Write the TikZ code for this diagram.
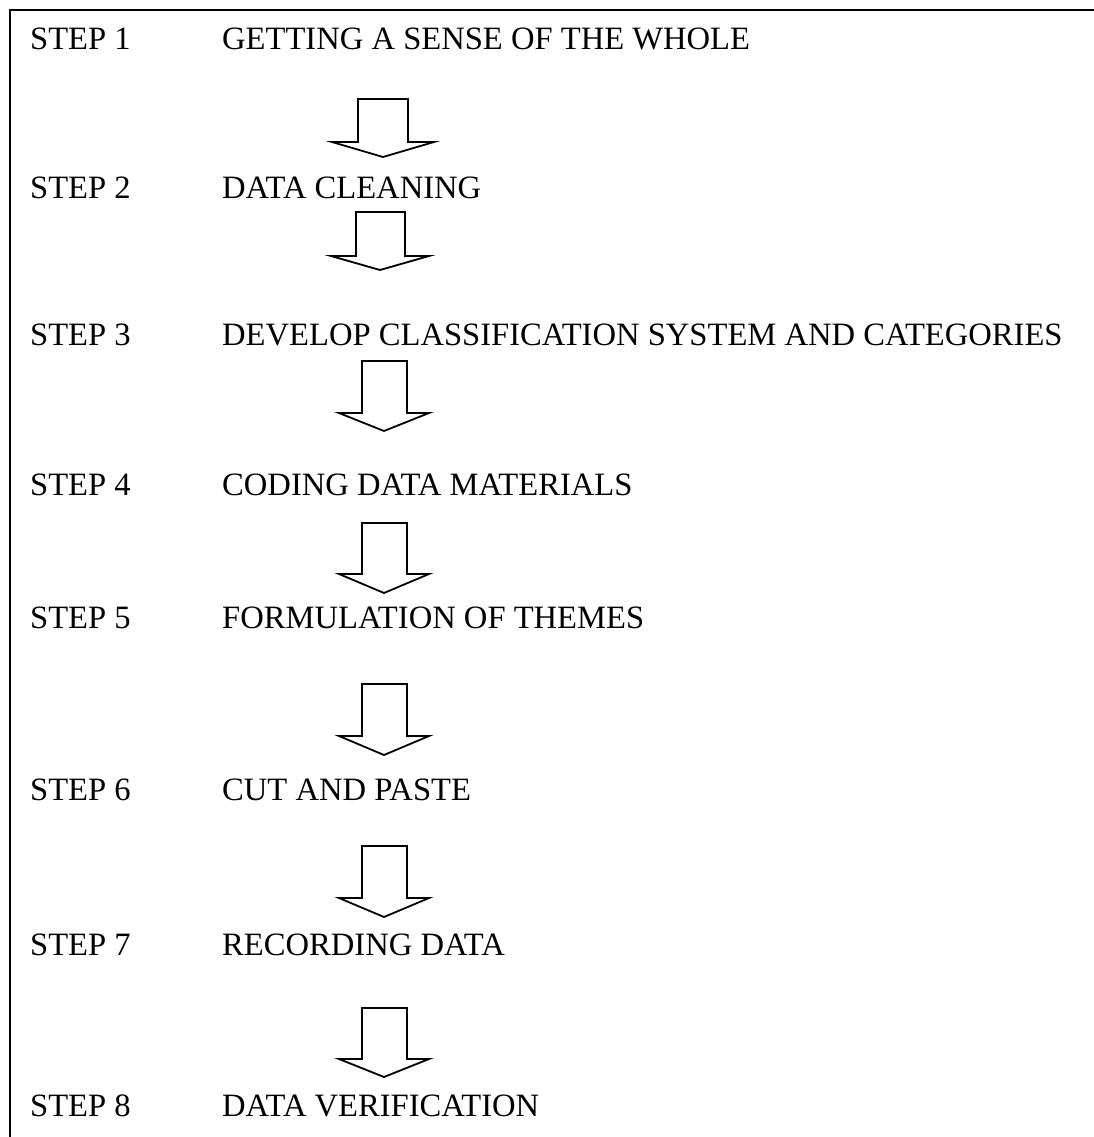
\documentclass[tikz,border=0pt]{standalone}
\usepackage{fontspec}
\setmainfont{Liberation Serif}
\begin{document}
\begin{tikzpicture}[x=1pt,y=-1pt,
  steplabel/.style={anchor=base west,inner sep=0pt,font=\fontsize{32.6}{38}\selectfont},
  frameline/.style={line width=2.8pt},
  blockarrow/.style={draw=black,fill=white,line width=1.8pt,line join=miter}]
\useasboundingbox (0,0) rectangle (1094,1137);
\draw[frameline] (10,1137) -- (10,10) -- (1094,10);
% step labels
\node[steplabel] (s1) at (30,50) {STEP 1};
\node[steplabel] (t1) at (222,50) {GETTING A SENSE OF THE WHOLE};
\node[steplabel] (s2) at (30,198) {STEP 2};
\node[steplabel] (t2) at (222,198) {DATA CLEANING};
\node[steplabel] (s3) at (30,345) {STEP 3};
\node[steplabel] (t3) at (222,345) {DEVELOP CLASSIFICATION SYSTEM AND CATEGORIES};
\node[steplabel] (s4) at (30,495) {STEP 4};
\node[steplabel] (t4) at (222,495) {CODING DATA MATERIALS};
\node[steplabel] (s5) at (30,628) {STEP 5};
\node[steplabel] (t5) at (222,628) {FORMULATION OF THEMES};
\node[steplabel] (s6) at (30,800) {STEP 6};
\node[steplabel] (t6) at (222,800) {CUT AND PASTE};
\node[steplabel] (s7) at (30,955) {STEP 7};
\node[steplabel] (t7) at (222,955) {RECORDING DATA};
\node[steplabel] (s8) at (30,1116) {STEP 8};
\node[steplabel] (t8) at (222,1116) {DATA VERIFICATION};
% block arrows: #1 shaft left, #2 shaft right, #3 head left, #4 head right, #5 tip x, #6 top, #7 shoulder, #8 tip y
\newcommand\blkarrow[8]{\draw[blockarrow] (#1,#6) -- (#2,#6) -- (#2,#7) -- (#4,#7) -- (#5,#8) -- (#3,#7) -- (#1,#7) -- cycle;}
\blkarrow{358}{408}{332}{434}{383}{99}{142}{157}
\blkarrow{356}{405}{331}{429}{380}{212}{256}{270}
\blkarrow{362}{407}{339}{429}{384}{361}{413}{431}
\blkarrow{362}{407}{339}{429}{384}{523}{574}{593}
\blkarrow{362}{407}{339}{429}{384}{684}{736}{755}
\blkarrow{362}{407}{339}{429}{384}{846}{898}{917}
\blkarrow{362}{407}{339}{429}{384}{1008}{1059}{1077}
\end{tikzpicture}
\end{document}
